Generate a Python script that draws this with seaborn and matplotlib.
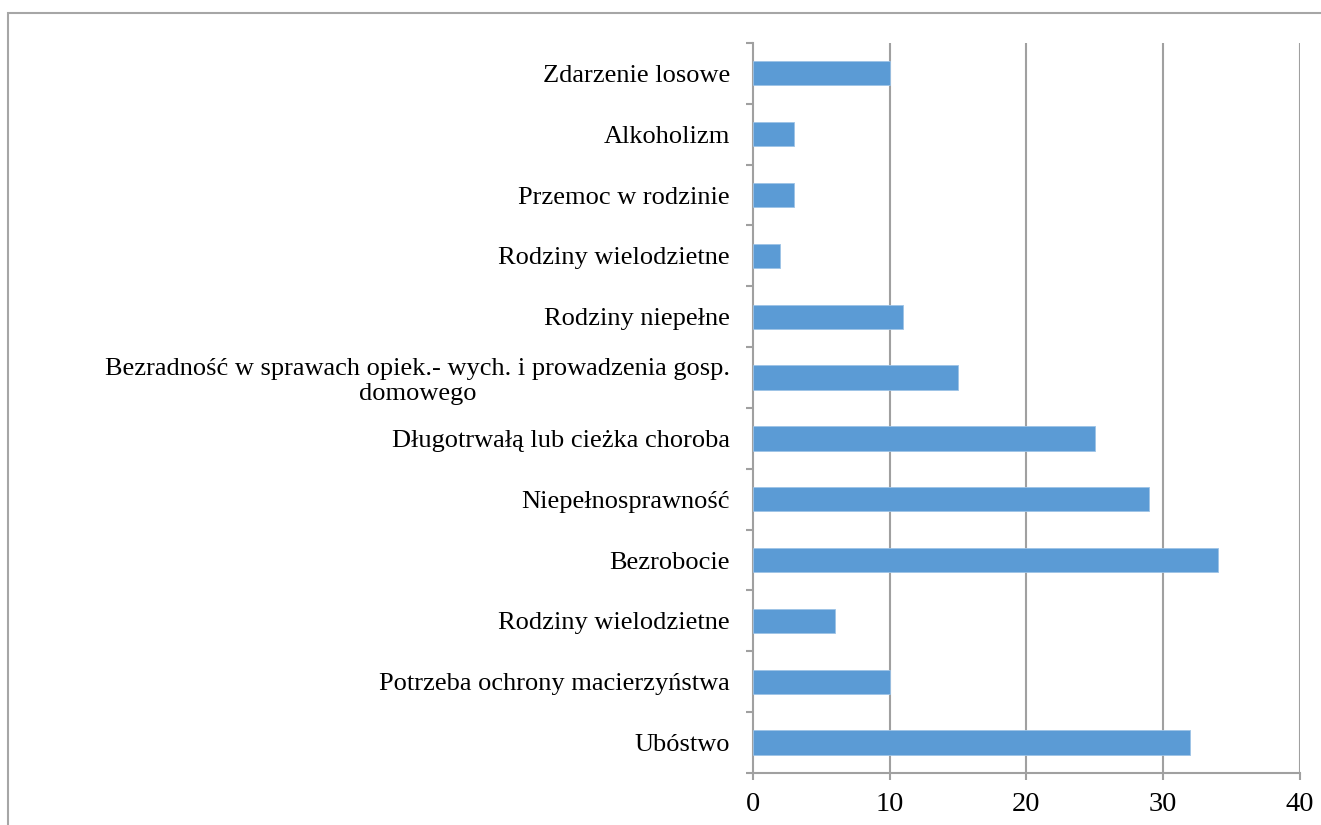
import matplotlib
matplotlib.use("Agg")
import matplotlib.pyplot as plt
from matplotlib.patches import Rectangle
from matplotlib.ticker import FixedLocator
import seaborn as sns
import pandas as pd

categories = [
    "Zdarzenie losowe",
    "Alkoholizm",
    "Przemoc w rodzinie",
    "Rodziny wielodzietne",
    "Rodziny niepełne",
    "Bezradność w sprawach opiek.- wych. i prowadzenia gosp.\ndomowego",
    "Długotrwałą lub cieżka choroba",
    "Niepełnosprawność",
    "Bezrobocie",
    "Rodziny wielodzietne",
    "Potrzeba ochrony macierzyństwa",
    "Ubóstwo",
]
values = [10, 3, 3, 2, 11, 15, 25, 29, 34, 6, 10, 32]
x_ticks = [0, 10, 20, 30, 40]

# the same label appears twice, so bars are keyed by row number
df = pd.DataFrame({"key": [str(i) for i in range(len(categories))], "value": values})

sns.set_style("white")
plt.rcParams["font.family"] = ["Liberation Serif", "DejaVu Serif"]

grey = "#a0a0a0"
fig = plt.figure(figsize=(13.21, 8.25), dpi=100)
ax = fig.add_axes([0.570, 0.063, 0.414, 0.885])

sns.barplot(data=df, y="key", x="value", orient="h", color="#5b9bd5",
            width=0.4, saturation=1, edgecolor="#9dc3e6", linewidth=0.6,
            ax=ax, zorder=3)

ax.set_xlim(0, 40)
ax.set_ylim(len(categories) - 0.5, -0.5)
ax.set_xticks(x_ticks)
ax.set_yticks(range(len(categories)))
ax.set_yticklabels(categories, multialignment="center")
ax.set_xlabel("")
ax.set_ylabel("")

# vertical gridlines
for v in x_ticks[1:]:
    ax.axvline(v, color=grey, lw=1.5, zorder=1)

# category boundaries get the tick marks, labels sit in between
ax.yaxis.set_minor_locator(FixedLocator([i - 0.5 for i in range(len(categories) + 1)]))
ax.tick_params(axis="y", which="major", length=0, pad=16.5, labelsize=19, colors="black")
ax.tick_params(axis="y", which="minor", length=5, width=1.5, color=grey, left=True)
ax.tick_params(axis="x", which="major", length=5, width=1.5, color=grey, bottom=True,
               pad=9, labelsize=20.5, labelcolor="black")

for s in ["top", "right"]:
    ax.spines[s].set_visible(False)
for s in ["left", "bottom"]:
    ax.spines[s].set_color(grey)
    ax.spines[s].set_linewidth(1.5)

# outer chart frame (cut off on the right and bottom)
fig.add_artist(Rectangle((8 / 1321, -0.1), 1.2, (825 - 13) / 825 + 0.1,
                         transform=fig.transFigure, fill=False,
                         edgecolor="#a6a6a6", lw=1.5, clip_on=False))

fig.savefig("out.png", dpi=100)
